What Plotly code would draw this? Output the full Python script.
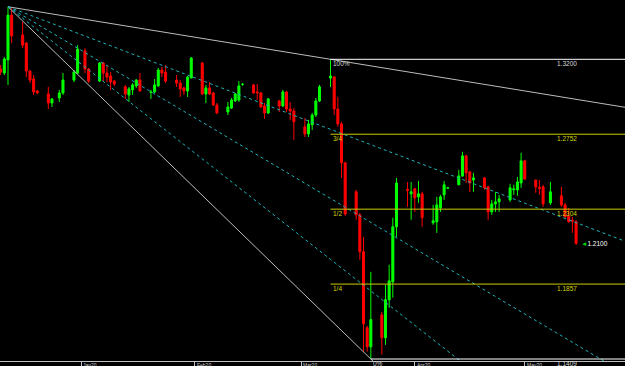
import plotly.graph_objects as go
import pandas as pd

# ---------------- data (GBPUSD daily) ----------------
dates = ["2019-12-10", "2019-12-11", "2019-12-12", "2019-12-13", "2019-12-16", "2019-12-17",
         "2019-12-18", "2019-12-19", "2019-12-20", "2019-12-23", "2019-12-24", "2019-12-26",
         "2019-12-27", "2019-12-30", "2019-12-31", "2020-01-02", "2020-01-03", "2020-01-06",
         "2020-01-07", "2020-01-08", "2020-01-09", "2020-01-10", "2020-01-13", "2020-01-14",
         "2020-01-15", "2020-01-16", "2020-01-17", "2020-01-20", "2020-01-21", "2020-01-22",
         "2020-01-23", "2020-01-24", "2020-01-27", "2020-01-28", "2020-01-29", "2020-01-30",
         "2020-01-31", "2020-02-03", "2020-02-04", "2020-02-05", "2020-02-06", "2020-02-07",
         "2020-02-10", "2020-02-11", "2020-02-12", "2020-02-13", "2020-02-14", "2020-02-17",
         "2020-02-18", "2020-02-19", "2020-02-20", "2020-02-21", "2020-02-24", "2020-02-25",
         "2020-02-26", "2020-02-27", "2020-02-28", "2020-03-02", "2020-03-03", "2020-03-04",
         "2020-03-05", "2020-03-06", "2020-03-09", "2020-03-10", "2020-03-11", "2020-03-12",
         "2020-03-13", "2020-03-16", "2020-03-17", "2020-03-18", "2020-03-19", "2020-03-20",
         "2020-03-23", "2020-03-24", "2020-03-25", "2020-03-26", "2020-03-27", "2020-03-30",
         "2020-03-31", "2020-04-01", "2020-04-02", "2020-04-03", "2020-04-06", "2020-04-07",
         "2020-04-08", "2020-04-09", "2020-04-10", "2020-04-13", "2020-04-14", "2020-04-15",
         "2020-04-16", "2020-04-17", "2020-04-20", "2020-04-21", "2020-04-22", "2020-04-23",
         "2020-04-24", "2020-04-27", "2020-04-28", "2020-04-29", "2020-04-30", "2020-05-01",
         "2020-05-04", "2020-05-05", "2020-05-06", "2020-05-08", "2020-05-11", "2020-05-12",
         "2020-05-13", "2020-05-14", "2020-05-15"]

opens = [1.3142, 1.3118, 1.3196, 1.3464, 1.3345, 1.3297, 1.3130, 1.3082, 1.3011, 1.2993, 1.2939, 1.2969,
         1.2999, 1.3076, 1.3118, 1.3250, 1.3142, 1.3070, 1.3178, 1.3118, 1.3100, 1.3070, 1.3035, 1.2987,
         1.3017, 1.3041, 1.3076, 1.3002, 1.3005, 1.3041, 1.3136, 1.3124, 1.3076, 1.3058, 1.3029, 1.3011,
         1.3088, 1.3178, 1.2993, 1.3029, 1.2999, 1.2927, 1.2885, 1.2909, 1.2951, 1.2957, 1.3050, 1.3047,
         1.3005, 1.2999, 1.2921, 1.2879, 1.2951, 1.2921, 1.3005, 1.2903, 1.2891, 1.2796, 1.2754, 1.2808,
         1.2867, 1.2951, 1.3088, 1.3094, 1.2903, 1.2814, 1.2581, 1.2408, 1.2270, 1.2050, 1.1596, 1.1482,
         1.1673, 1.1536, 1.1763, 1.1870, 1.2199, 1.2423, 1.2396, 1.2426, 1.2378, 1.2396, 1.2223, 1.2229,
         1.2312, 1.2390, 1.2429, 1.2450, 1.2503, 1.2623, 1.2527, 1.2479, 1.2491, 1.2438, 1.2288, 1.2336,
         1.2348, 1.2360, 1.2420, 1.2420, 1.2461, 1.2593, 1.2479, 1.2435, 1.2438, 1.2342, 1.2384, 1.2330,
         1.2264, 1.2238, 1.2229]

highs = [1.3166, 1.3214, 1.3514, 1.3506, 1.3423, 1.3303, 1.3136, 1.3106, 1.3017, 1.3035, 1.2969, 1.3017,
         1.3118, 1.3136, 1.3285, 1.3267, 1.3148, 1.3184, 1.3184, 1.3166, 1.3124, 1.3076, 1.3047, 1.3035,
         1.3058, 1.3082, 1.3118, 1.3017, 1.3082, 1.3148, 1.3154, 1.3166, 1.3106, 1.3076, 1.3035, 1.3100,
         1.3214, 1.3184, 1.3047, 1.3064, 1.3005, 1.2939, 1.2945, 1.2969, 1.2999, 1.3070, 1.3058, 1.3052,
         1.3052, 1.3005, 1.2939, 1.2969, 1.2957, 1.3017, 1.3011, 1.2945, 1.2909, 1.2850, 1.2838, 1.2879,
         1.2969, 1.3047, 1.3200, 1.3100, 1.2975, 1.2826, 1.2587, 1.2420, 1.2282, 1.2139, 1.1608, 1.1930,
         1.1691, 1.1853, 1.1972, 1.2253, 1.2491, 1.2467, 1.2467, 1.2432, 1.2473, 1.2408, 1.2330, 1.2378,
         1.2390, 1.2473, 1.2438, 1.2539, 1.2647, 1.2629, 1.2533, 1.2521, 1.2497, 1.2444, 1.2360, 1.2408,
         1.2390, 1.2456, 1.2450, 1.2497, 1.2641, 1.2599, 1.2479, 1.2479, 1.2450, 1.2467, 1.2438, 1.2342,
         1.2312, 1.2258, 1.2241]

lows = [1.3106, 1.3106, 1.3047, 1.3297, 1.3267, 1.3094, 1.3058, 1.2987, 1.2993, 1.2903, 1.2915, 1.2945,
        1.2987, 1.3064, 1.3112, 1.3118, 1.3058, 1.3064, 1.3070, 1.3064, 1.3017, 1.3041, 1.2963, 1.2945,
        1.2987, 1.3029, 1.3005, 1.2963, 1.2999, 1.3035, 1.3094, 1.3058, 1.3035, 1.2975, 1.2987, 1.2975,
        1.3088, 1.2987, 1.2939, 1.2987, 1.2921, 1.2873, 1.2867, 1.2903, 1.2945, 1.2945, 1.3041, 1.2993,
        1.2957, 1.2909, 1.2844, 1.2873, 1.2885, 1.2915, 1.2885, 1.2838, 1.2718, 1.2736, 1.2736, 1.2778,
        1.2855, 1.2945, 1.3035, 1.2867, 1.2796, 1.2491, 1.2264, 1.2241, 1.2002, 1.1453, 1.1453, 1.1409,
        1.1435, 1.1494, 1.1715, 1.1775, 1.2139, 1.2318, 1.2241, 1.2288, 1.2342, 1.2199, 1.2211, 1.2163,
        1.2288, 1.2360, 1.2426, 1.2450, 1.2497, 1.2461, 1.2408, 1.2408, 1.2420, 1.2241, 1.2270, 1.2288,
        1.2288, 1.2348, 1.2390, 1.2384, 1.2432, 1.2479, 1.2402, 1.2390, 1.2318, 1.2330, 1.2318, 1.2253,
        1.2223, 1.2163, 1.2091]

closes = [1.3124, 1.3202, 1.3464, 1.3339, 1.3285, 1.3130, 1.3076, 1.3005, 1.2999, 1.2939, 1.2963, 1.2999,
          1.3076, 1.3124, 1.3261, 1.3142, 1.3070, 1.3178, 1.3118, 1.3094, 1.3064, 1.3052, 1.2993, 1.3023,
          1.3047, 1.3076, 1.3011, 1.3005, 1.3047, 1.3136, 1.3118, 1.3070, 1.3058, 1.3023, 1.3011, 1.3094,
          1.3208, 1.2993, 1.3029, 1.2993, 1.2927, 1.2879, 1.2915, 1.2957, 1.2993, 1.3041, 1.3052, 1.2999,
          1.2999, 1.2915, 1.2879, 1.2963, 1.2921, 1.3005, 1.2903, 1.2891, 1.2826, 1.2754, 1.2814, 1.2867,
          1.2951, 1.3035, 1.3100, 1.2903, 1.2814, 1.2581, 1.2276, 1.2270, 1.2050, 1.1620, 1.1482, 1.1644,
          1.1536, 1.1763, 1.1876, 1.2199, 1.2461, 1.2417, 1.2408, 1.2372, 1.2396, 1.2253, 1.2235, 1.2330,
          1.2378, 1.2450, 1.2432, 1.2503, 1.2623, 1.2521, 1.2461, 1.2491, 1.2432, 1.2288, 1.2336, 1.2348,
          1.2366, 1.2432, 1.2426, 1.2467, 1.2593, 1.2485, 1.2438, 1.2429, 1.2336, 1.2408, 1.2330, 1.2258,
          1.2229, 1.2232, 1.2100]

# Fan anchored at the December high
fan_origin_date, fan_origin_price = "2019-12-12", 1.3514
fan_solid_dates = ["2020-03-09", "2020-03-20"]
fan_solid_prices = [1.3200, 1.1409]
fan_dot_dates = ["2020-03-20", "2020-03-20", "2020-03-20"]
fan_dot_prices = [1.2690, 1.2225, 1.1816]

# Fibonacci retracement of the March swing
fib_high_date, fib_high = "2020-03-09", 1.3200
fib_low_date, fib_low = "2020-03-20", 1.1409
fib_levels = [1.0, 0.75, 0.5, 0.25, 0.0]
fib_names = ["100%", "3/4", "1/2", "1/4", "0%"]
fib_value_labels = ["1.3200", "1.2752", "1.2304", "1.1857", "1.1409"]

month_ticks = ["2020-01-01", "2020-02-01", "2020-03-01", "2020-04-01", "2020-05-01"]
month_labels = ["Jan20", "Feb20", "Mar20", "Apr20", "May20"]

# ---------------- styling constants ----------------
X_RANGE = ["2019-12-09 19:40", "2020-05-28 08:24"]
Y_RANGE = [1.13971, 1.35544]
FAR = "2020-07-15"
BULL, BEAR = "#00ff00", "#ff0000"
FAN_SOLID = "#bcbcbc"
FAN_DOT = "#1fb4bc"
FIB_WHITE = "#ffffff"
FIB_YELLOW = "#cccc00"
FONT = "Liberation Sans, Arial, sans-serif"
BODY_W_MS = 0.55 * 86400000


def extend(d0, p0, d1, p1, far=FAR):
    t0, t1, tf = pd.Timestamp(d0), pd.Timestamp(d1), pd.Timestamp(far)
    slope = (p1 - p0) / (t1 - t0).total_seconds()
    return [t0, tf], [p0, p0 + slope * (tf - t0).total_seconds()]


df = pd.DataFrame(dict(date=pd.to_datetime(dates), o=opens, h=highs, l=lows, c=closes))
df["up"] = df["c"] >= df["o"]

fig = go.Figure()

# candles: wicks (scatter) then bodies (bars)
for is_up, color in ((True, BULL), (False, BEAR)):
    sub = df[df["up"] == is_up]
    wx, wy = [], []
    for _, r in sub.iterrows():
        wx += [r["date"], r["date"], None]
        wy += [r["l"], r["h"], None]
    fig.add_trace(go.Scatter(x=wx, y=wy, mode="lines", line=dict(color=color, width=1),
                             hoverinfo="skip", showlegend=False))
    base = sub[["o", "c"]].min(axis=1)
    height = (sub["c"] - sub["o"]).abs()
    fig.add_trace(go.Bar(x=sub["date"], y=height, base=base, width=BODY_W_MS,
                         marker=dict(color=color, line=dict(color=color, width=1)),
                         hoverinfo="skip", showlegend=False))

# fan lines
for d, p in zip(fan_solid_dates, fan_solid_prices):
    xs, ys = extend(fan_origin_date, fan_origin_price, d, p)
    fig.add_trace(go.Scatter(x=xs, y=ys, mode="lines", line=dict(color=FAN_SOLID, width=1),
                             hoverinfo="skip", showlegend=False))
for d, p in zip(fan_dot_dates, fan_dot_prices):
    xs, ys = extend(fan_origin_date, fan_origin_price, d, p)
    fig.add_trace(go.Scatter(x=xs, y=ys, mode="lines",
                             line=dict(color=FAN_DOT, width=1, dash="dot"),
                             hoverinfo="skip", showlegend=False))

annotations = []
label_date = "2020-05-09 12:00"
for lvl, name, vlab in zip(fib_levels, fib_names, fib_value_labels):
    price = fib_low + lvl * (fib_high - fib_low)
    start = fib_low_date if lvl == 0.0 else fib_high_date
    col = FIB_WHITE if lvl in (0.0, 1.0) else FIB_YELLOW
    tcol = "#d8d8d8" if lvl in (0.0, 1.0) else "#d6d600"
    fig.add_trace(go.Scatter(x=[pd.Timestamp(start), pd.Timestamp(FAR)], y=[price, price],
                             mode="lines", line=dict(color=col, width=1),
                             hoverinfo="skip", showlegend=False))
    annotations.append(dict(x=start, y=price, xref="x", yref="y", text=name, showarrow=False,
                            xanchor="left", yanchor="top", xshift=1, borderpad=0,
                            font=dict(family=FONT, size=6.5, color=tcol)))
    annotations.append(dict(x=label_date, y=price, xref="x", yref="y", text=vlab,
                            showarrow=False, xanchor="left", yanchor="top", borderpad=0,
                            font=dict(family=FONT, size=6.5, color=tcol)))

# current price tag
annotations.append(dict(x="2020-05-16 00:00", y=closes[-1], xref="x", yref="y",
                        text=f"<span style='color:#00d000'>◄</span><span style='color:#ffffff'>{closes[-1]:.4f}</span>",
                        showarrow=False, xanchor="left", yanchor="middle", borderpad=0,
                        font=dict(family=FONT, size=6.5)))

# month labels under the axis
for d, lab in zip(month_ticks, month_labels):
    annotations.append(dict(x=d, y=0, xref="x", yref="paper", text=lab, showarrow=False,
                            xanchor="left", yanchor="top", xshift=1, yshift=0, borderpad=0,
                            font=dict(family=FONT, size=5, color="#d0d0d0")))

fig.update_layout(
    width=625, height=366,
    margin=dict(l=0, r=0, t=0, b=5),
    paper_bgcolor="#000000", plot_bgcolor="#000000",
    showlegend=False, barmode="overlay",
    annotations=annotations,
    xaxis=dict(type="date", range=X_RANGE, showgrid=False, zeroline=False,
               showline=True, linecolor="#c0c0c0", linewidth=1,
               ticks="outside", tickvals=month_ticks, ticklen=5, tickcolor="#c0c0c0",
               showticklabels=False, fixedrange=True),
    yaxis=dict(range=Y_RANGE, showgrid=False, zeroline=False, showticklabels=False,
               showline=False, ticks="", fixedrange=True),
)

fig.write_html("out.html")
